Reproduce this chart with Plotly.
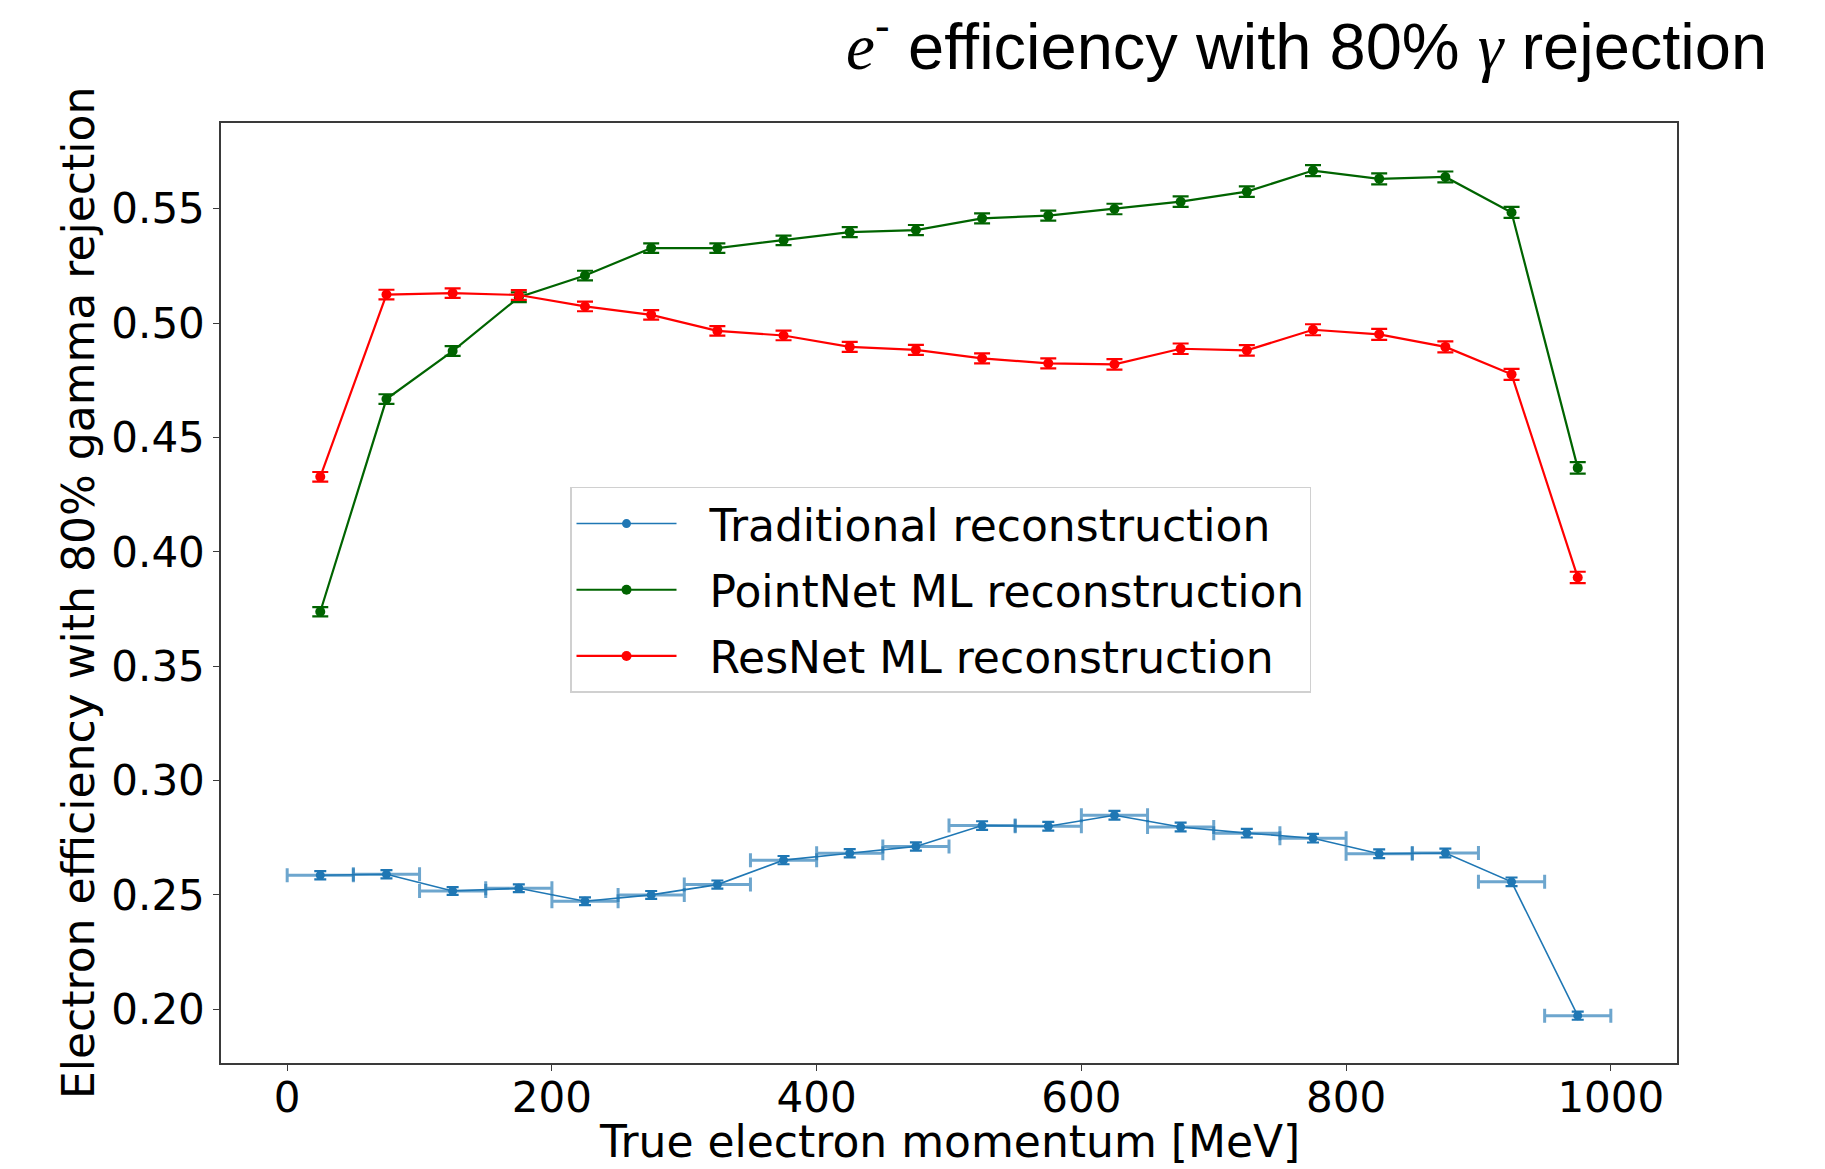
import plotly.graph_objects as go

# ---- data ----
momentum = [25, 75, 125, 175, 225, 275, 325, 375, 425, 475,
            525, 575, 625, 675, 725, 775, 825, 875, 925, 975]
bin_halfwidth = [25] * 20

traditional = [0.2586, 0.2590, 0.2517, 0.2529, 0.2472, 0.2500, 0.2545, 0.2652, 0.2682, 0.2712,
               0.2803, 0.2800, 0.2848, 0.2797, 0.2770, 0.2748, 0.2680, 0.2683, 0.2557, 0.1972]
traditional_err = [0.0018, 0.0018, 0.0017, 0.0017, 0.0017, 0.0017, 0.0018, 0.0018, 0.0018, 0.0018,
                   0.0019, 0.0019, 0.0019, 0.0019, 0.0019, 0.0019, 0.0019, 0.0019, 0.0019, 0.0018]

pointnet = [0.3738, 0.4668, 0.4878, 0.5113, 0.5208, 0.5328, 0.5328, 0.5362, 0.5398, 0.5407,
            0.5458, 0.5470, 0.5499, 0.5531, 0.5575, 0.5667, 0.5631, 0.5639, 0.5484, 0.4367]
pointnet_err = [0.0020, 0.0021, 0.0021, 0.0021, 0.0021, 0.0021, 0.0021, 0.0021, 0.0022, 0.0022,
                0.0022, 0.0022, 0.0023, 0.0023, 0.0023, 0.0024, 0.0024, 0.0024, 0.0024, 0.0025]

resnet = [0.4328, 0.5125, 0.5131, 0.5123, 0.5073, 0.5036, 0.4966, 0.4946, 0.4896, 0.4883,
          0.4846, 0.4824, 0.4820, 0.4888, 0.4881, 0.4971, 0.4951, 0.4896, 0.4776, 0.3888]
resnet_err = [0.0021, 0.0021, 0.0021, 0.0021, 0.0021, 0.0021, 0.0021, 0.0021, 0.0022, 0.0022,
              0.0022, 0.0022, 0.0023, 0.0023, 0.0023, 0.0024, 0.0024, 0.0024, 0.0024, 0.0025]

x_ticks = [0, 200, 400, 600, 800, 1000]
y_ticks = [0.20, 0.25, 0.30, 0.35, 0.40, 0.45, 0.50, 0.55]

names = ["Traditional reconstruction", "PointNet ML reconstruction", "ResNet ML reconstruction"]

BLUE = "#1f77b4"
GREEN = "#006400"
RED = "#ff0000"
FONT = "DejaVu Sans"
PAD = "&nbsp;&nbsp;"

fig = go.Figure()

fig.add_trace(go.Scatter(
    x=momentum, y=traditional, name=PAD + names[0], legendgroup="a",
    mode="lines+markers",
    line=dict(color=BLUE, width=1.6),
    marker=dict(color=BLUE, size=9),
    error_x=dict(type="data", array=bin_halfwidth, color="rgba(31,119,180,0.65)",
                 thickness=3, width=7),
    error_y=dict(type="data", array=traditional_err, color=BLUE, thickness=2.2, width=6),
))
fig.add_trace(go.Scatter(
    x=momentum, y=pointnet, name=PAD + names[1], legendgroup="b",
    mode="lines+markers",
    line=dict(color=GREEN, width=2.2),
    marker=dict(color=GREEN, size=10),
    error_y=dict(type="data", array=pointnet_err, color=GREEN, thickness=2.2, width=8),
))
fig.add_trace(go.Scatter(
    x=momentum, y=resnet, name=PAD + names[2], legendgroup="c",
    mode="lines+markers",
    line=dict(color=RED, width=2.2),
    marker=dict(color=RED, size=10),
    error_y=dict(type="data", array=resnet_err, color=RED, thickness=2.2, width=8),
))

axis_common = dict(
    showline=True, mirror=True, linecolor="#3a3a3a", linewidth=1.5,
    ticks="outside", ticklen=6, tickwidth=1.2, tickcolor="#3a3a3a",
    showgrid=False, zeroline=False,
    tickfont=dict(family=FONT, size=42, color="black"),
)

fig.update_layout(
    width=1825, height=1169,
    margin=dict(l=221, r=148, t=123, b=106),
    paper_bgcolor="white", plot_bgcolor="white",
    xaxis=dict(range=[-50, 1050], tickvals=x_ticks, ticktext=[str(v) for v in x_ticks],
               ticklabelstandoff=-9, **axis_common),
    yaxis=dict(range=[0.1765, 0.5875], tickvals=y_ticks, ticktext=[f"{v:.2f}" for v in y_ticks],
               **axis_common),
    legend=dict(
        x=0.2397, y=0.6128, xanchor="left", yanchor="top",
        bgcolor="rgba(255,255,255,0.85)", bordercolor="#d0d0d0", borderwidth=1.5,
        font=dict(family=FONT, size=44, color="black"),
        itemwidth=100, tracegroupgap=6,
    ),
    showlegend=True,
)

fig.add_annotation(
    text="True electron momentum [MeV]", xref="paper", yref="paper",
    x=0.5, y=-0.083, xanchor="center", yanchor="middle", showarrow=False,
    font=dict(family=FONT, size=44, color="black"),
)
fig.add_annotation(
    text="Electron efficiency with 80% gamma rejection", xref="paper", yref="paper",
    x=-0.0982, y=0.5, xanchor="center", yanchor="middle", showarrow=False, textangle=-90,
    font=dict(family=FONT, size=44, color="black"),
)
fig.add_annotation(
    text=('<span style="font-family:Liberation Serif"><i>e</i></span><sup>-</sup> efficiency with 80% '
          '<span style="font-family:Liberation Serif"><i>γ</i></span> rejection'),
    xref="paper", yref="paper", x=1.0635, y=1.0862, xanchor="right", yanchor="middle",
    showarrow=False, font=dict(family="Liberation Sans", size=65, color="black"),
)

fig.write_html("out.html")
